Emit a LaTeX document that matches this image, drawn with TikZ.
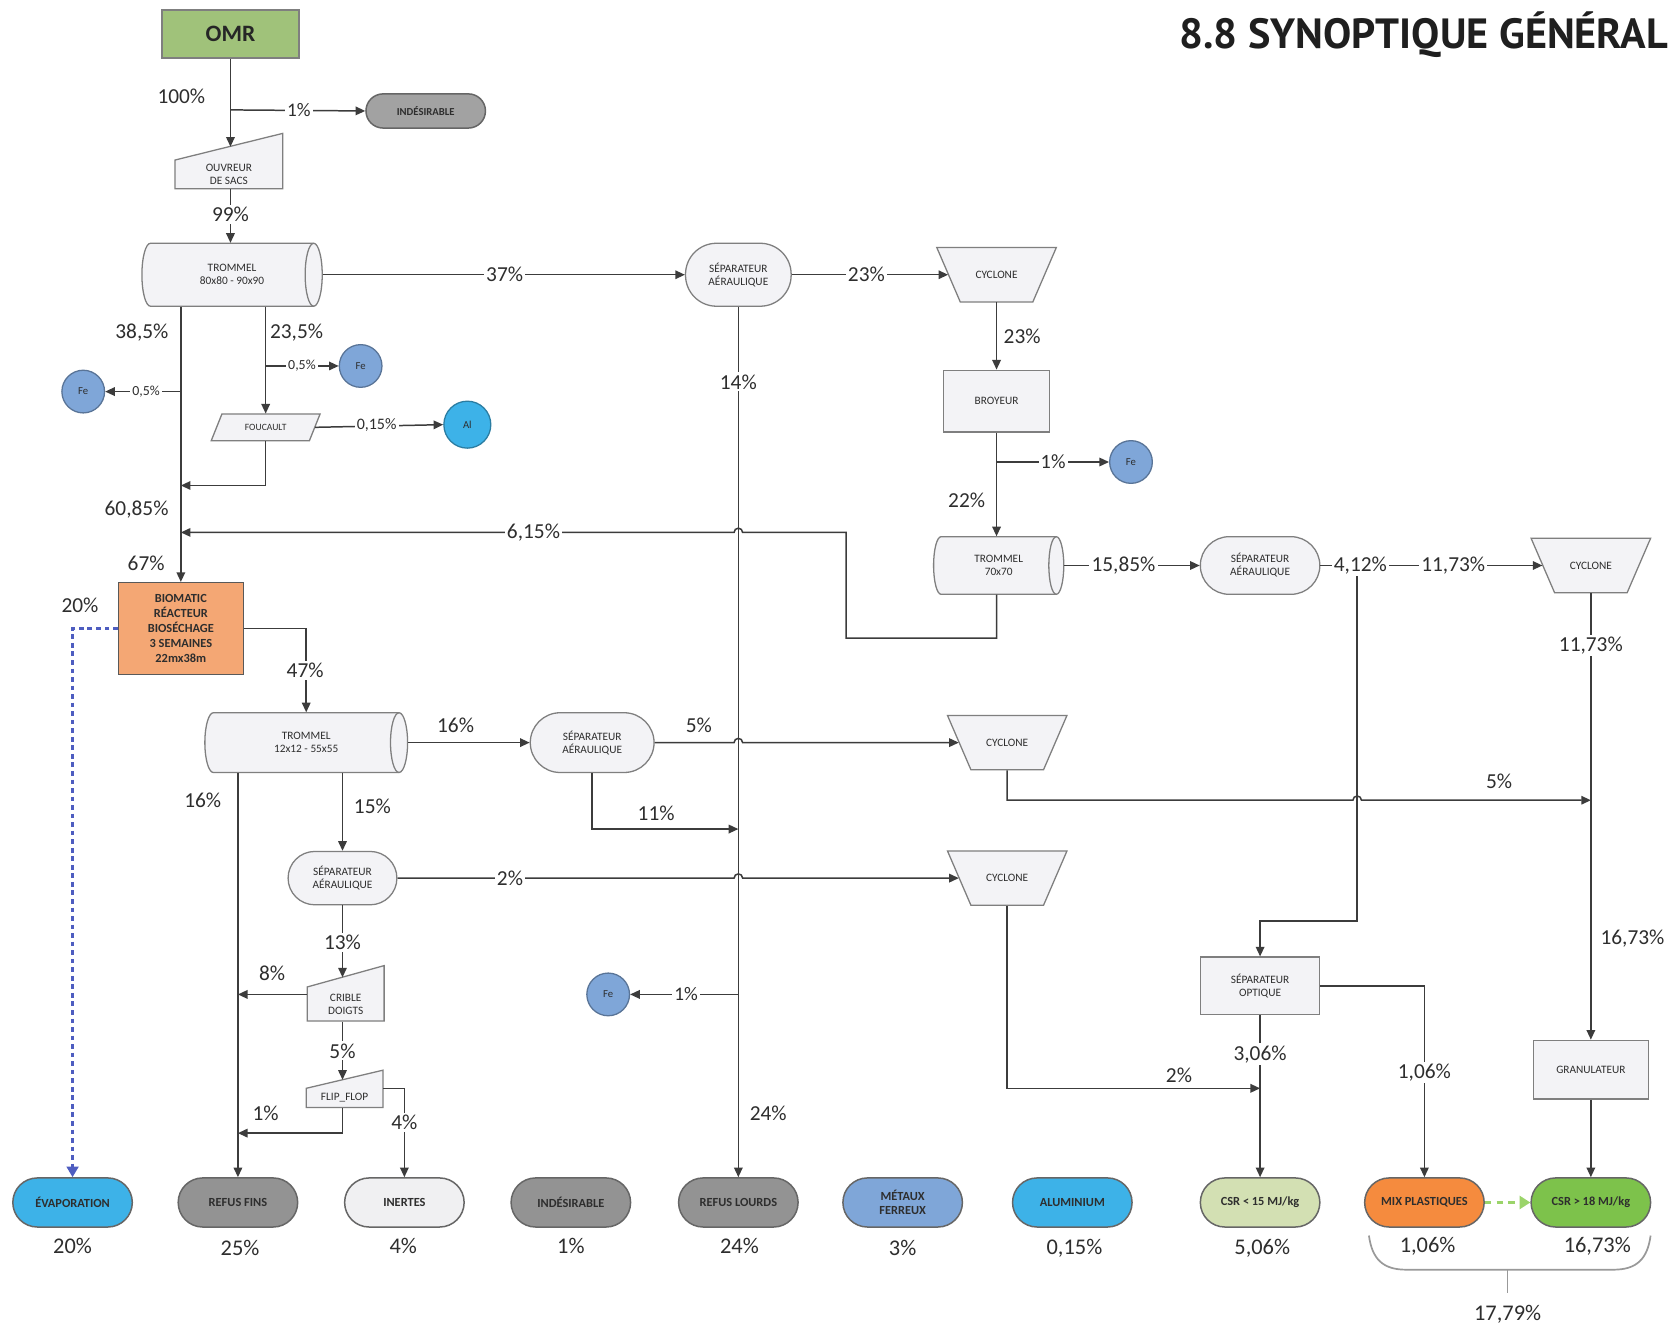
\documentclass[tikz,border=0pt]{standalone}
\usepackage{fontspec}
\setmainfont{Carlito}
\newfontfamily\titlefont{PT Sans}
\usetikzlibrary{arrows.meta}
\definecolor{lc}{HTML}{3C3C3C}
\definecolor{tc}{HTML}{2E2E2E}
\definecolor{bc}{HTML}{7F7F7F}
\definecolor{pf}{HTML}{F3F3F6}
\definecolor{omrc}{HTML}{A0C27A}
\definecolor{grayc}{HTML}{939393}
\definecolor{grayt}{HTML}{A2A2A2}
\definecolor{feblue}{HTML}{7FA6D8}
\definecolor{alblue}{HTML}{3DB2E8}
\definecolor{bioc}{HTML}{F4A774}
\definecolor{csrone}{HTML}{D3E0B3}
\definecolor{mixc}{HTML}{F58B3E}
\definecolor{csrtwo}{HTML}{7DC24B}
\definecolor{evapc}{HTML}{4E5DC0}
\definecolor{gdash}{HTML}{9BD46A}
\definecolor{inertc}{HTML}{F0F0F2}

\tikzset{
 ln/.style={draw=lc, line width=0.7pt},
 ar/.style={ln, -{Triangle[length=4.5pt,width=4pt]}},
 lab/.style={font=\fontsize{10}{11}\selectfont, text=tc, inner sep=1pt},
 onl/.style={lab, fill=white},
 ntx/.style={font=\fontsize{5.3}{6.1}\selectfont, text=tc, align=center},
 proc/.style={draw=bc, fill=pf, line width=0.6pt},
 pillbox/.style n args={3}{rectangle, rounded corners=#3, draw=bc, fill=pf, line width=0.6pt, minimum width=#1, minimum height=#2, inner sep=0pt, ntx},
 recbox/.style 2 args={rectangle, draw=bc, fill=pf, line width=0.6pt, minimum width=#1, minimum height=#2, inner sep=0pt, ntx},
 endpill/.style={rectangle, rounded corners=11.5pt, draw=bc!80!black, fill=#1, line width=0.7pt, minimum width=56pt, minimum height=23pt, inner sep=0pt, font=\bfseries\fontsize{5.8}{6.6}\selectfont, text=tc, align=center},
 disc/.style={circle, draw=#1!70!black, fill=#1, line width=0.6pt, minimum size=20pt, inner sep=0pt, font=\fontsize{5}{6}\selectfont, text=tc},
 pct/.style={font=\fontsize{10.5}{12}\selectfont, text=tc},
}

\newcommand\cyclonebox[4]{%
 \filldraw[proc] (#2-56,#3-25.5) -- (#2+56,#3-25.5) -- (#2+34,#3+25.5) -- (#2-34,#3+25.5) -- cycle;
 \node[ntx, inner sep=0pt, minimum width=45pt, minimum height=25.5pt] (#1) at (#2,#3) {#4};}
\newcommand\manin[7]{%
 \filldraw[proc] (#2,#4) -- (#3,#5) -- (#3,#6) -- (#2,#6) -- cycle;
 \node[ntx, inner sep=0pt, minimum width={(#3-#2)*0.5pt}, minimum height={(#6-#4)*0.5pt}] (#1) at ({(#2+#3)/2},{(#4+#6)/2}) {#7};}
\newcommand\cyl[7]{%
 \filldraw[proc] (#2+#6,#4) -- (#3-#6,#4) arc[start angle=-90,end angle=90,x radius=#6,y radius={(#5-#4)/2}] -- (#2+#6,#5) arc[start angle=90,end angle=270,x radius=#6,y radius={(#5-#4)/2}] -- cycle;
 \draw[proc, fill=none] (#3-#6,#4) arc[start angle=-90,end angle=-270,x radius=#6,y radius={(#5-#4)/2}];
 \node[ntx, inner sep=0pt, minimum width={(#3-#2)*0.5pt}, minimum height={(#5-#4)*0.5pt}] (#1) at ({(#2+#3)/2},{(#4+#5)/2}) {#7};}

\begin{document}
\begin{tikzpicture}[x=0.5pt,y=-0.5pt]
\useasboundingbox (0,0) rectangle (1568,1242);
\clip (0,0) rectangle (1568,1242);
\fill[white] (0,0) rectangle (1568,1242);

% title
\node[anchor=base west, inner sep=0pt, font=\titlefont\bfseries\fontsize{19.8}{22}\selectfont, text=black!88] (title) at (1105,45) {8.8 SYNOPTIQUE GÉNÉRAL};

% ---------- shapes ----------
\node[draw=bc, fill=omrc, line width=0.7pt, minimum width=64pt, minimum height=22.5pt, inner sep=0pt, font=\bfseries\fontsize{11}{12}\selectfont, text=black!85] (omr) at (216,32) {OMR};
\node[endpill=grayt, minimum height=16pt, rounded corners=8pt, font=\bfseries\fontsize{5}{6}\selectfont] (ind1) at (399,104) {INDÉSIRABLE};
\manin{ouv}{164}{265}{150}{125}{177}{OUVREUR\\DE SACS}
\cyl{tr1}{133}{302}{228}{287}{8}{TROMMEL\\80x80 - 90x90}
\node[pillbox={49.5pt}{29.5pt}{14.5pt}] (sep1) at (692,257.5) {SÉPARATEUR\\AÉRAULIQUE};
\cyclonebox{cyc1}{934}{257.5}{CYCLONE}
\node[recbox={49.5pt}{29pt}] (broy) at (934,376) {BROYEUR};
\node[disc=feblue] (fe4) at (1060,433) {Fe};
\cyl{tr2}{875}{997}{503}{557}{7}{TROMMEL\\70x70}
\node[pillbox={56pt}{27pt}{13.5pt}] (sep2) at (1181,530) {SÉPARATEUR\\AÉRAULIQUE};
\cyclonebox{cyc3}{1491}{530}{CYCLONE}
\node[recbox={54pt}{27.5pt}] (gran) at (1491,1002.5) {GRANULATEUR};
\node[disc=feblue] (fe1) at (78,367) {Fe};
\node[disc=feblue] (fe2) at (338,343) {Fe};
\filldraw[proc] (208,388) -- (300,388) -- (290,413) -- (198,413) -- cycle;
\node[ntx, font=\fontsize{4.5}{5}\selectfont, minimum width=46pt, minimum height=12.5pt, inner sep=0pt] (fouc) at (249,400.5) {FOUCAULT};
\node[disc=alblue, minimum size=22pt] (al) at (438,398) {Al};
\node[draw=bc!70!black, fill=bioc, line width=0.6pt, minimum width=58.5pt, minimum height=43pt, inner sep=0pt, font=\bfseries\fontsize{5.8}{7}\selectfont, align=center, text=tc] (bio) at (169.5,589) {BIOMATIC\\RÉACTEUR\\BIOSÉCHAGE\\3 SEMAINES\\22mx38m};
\cyl{tr3}{192}{382}{668}{724}{8}{TROMMEL\\12x12 - 55x55}
\node[pillbox={58pt}{28pt}{14pt}] (sep3) at (555,696) {SÉPARATEUR\\AÉRAULIQUE};
\cyclonebox{cyc2}{944}{696}{CYCLONE}
\node[pillbox={51pt}{25pt}{12.5pt}] (sep4) at (321,823) {SÉPARATEUR\\AÉRAULIQUE};
\cyclonebox{cyc4}{944}{823}{CYCLONE}
\manin{crib}{288}{360}{925}{905}{957}{CRIBLE\\DOIGTS}
\manin{flip}{287}{359}{1020}{1003}{1038}{FLIP\_FLOP}
\node[disc=feblue] (fe3) at (570,932) {Fe};
\node[recbox={56pt}{27pt}] (sepo) at (1181,924) {SÉPARATEUR\\OPTIQUE};

% bottom outputs
\node[endpill=alblue] (evap) at (68,1127) {ÉVAPORATION};
\node[endpill=grayc] (rfins) at (223,1127) {REFUS FINS};
\node[endpill=inertc] (inert) at (379,1127) {INERTES};
\node[endpill=grayc] (ind2) at (535,1127) {INDÉSIRABLE};
\node[endpill=grayc] (rlourds) at (692,1127) {REFUS LOURDS};
\node[endpill=feblue] (metaux) at (846,1127) {MÉTAUX\\FERREUX};
\node[endpill=alblue] (alu) at (1005,1127) {ALUMINIUM};
\node[endpill=csrone] (csr1) at (1181,1127) {CSR < 15 MJ/kg};
\node[endpill=mixc] (mix) at (1335,1127) {MIX PLASTIQUES};
\node[endpill=csrtwo] (csr2) at (1491,1127) {CSR > 18 MJ/kg};

% ---------- connectors ----------
\coordinate (j1) at (216,103);
\coordinate (ouvin) at (216,137.5);
\draw[ar] (omr.south) -- (ouvin);
\draw[ar] (j1) -- (ind1.west);
\draw[ar] (ouv.south -| omr.south) -- (tr1.north -| omr.south);
\draw[ar] (tr1.east) -- (sep1.west);
\draw[ar] (sep1.east) -- (cyc1.west);
\draw[ar] (cyc1.south) -- (broy.north);
\draw[ar] (broy.south) -- (broy.south |- tr2.north);
\coordinate (j2) at (934,433);
\draw[ar] (j2) -- (fe4.west);
\draw[ar] (tr2.south -| broy.south) -- (934,598) -- (793,598) -- (793,499) -- (696,499) arc[start angle=0,end angle=-180,radius=4] -- (bio.north |- 0,499);
\draw[ar] (tr2.east) -- (sep2.west);
\draw[ar] (sep2.east) -- (cyc3.west);
\draw[ar] (1272,530) -- (1272,863) -| (sepo.north);
\draw[ar] (cyc3.south) -- (gran.north);
\draw[ar] (gran.south) -- (csr2.north);
\draw[ar] (sepo.south) -- (csr1.north);
\draw[ar] (sepo.east) -| (mix.north);
\draw[ar] (bio.north |- tr1.south) -- (bio.north);
\draw[ar] (fouc.north |- tr1.south) -- (fouc.north);
\coordinate (j3) at (249,343);
\draw[ar] (j3) -- (fe2.west);
\coordinate (j4) at (169.5,367);
\draw[ar] (j4) -- (fe1.east);
\draw[ar] (fouc.east) -- (al.west);
\draw[ar] (fouc.south) |- (bio.north |- 0,455);
\draw[ar] (bio.east) -| (tr3.north);
\draw[draw=evapc, line width=1.8pt, dash pattern=on 2.2pt off 1.8pt, -{Triangle[length=5pt,width=5.5pt]}] (bio.west) -| (evap.north);
\draw[ar] (tr3.east) -- (sep3.west);
\draw[ar] (sep3.east) -- (688,696) arc[start angle=180,end angle=360,radius=4] -- (cyc2.west);
\draw[ar] (cyc2.south) -- (944,750) -- (1268,750) arc[start angle=180,end angle=360,radius=4] -- (gran.north |- 0,750);
\draw[ar] (sep3.south) |- (rlourds.north |- 0,777);
\draw[ar] (rfins.north |- tr3.south) -- (rfins.north);
\draw[ar] (sep4.north |- tr3.south) -- (sep4.north);
\draw[ar] (sep4.east) -- (688,823) arc[start angle=180,end angle=360,radius=4] -- (cyc4.west);
\draw[ar] (cyc4.south) |- (sepo.south |- 0,1020);
\coordinate (cribin) at (321,916);
\draw[ar] (sep4.south) -- (cribin);
\draw[ar] (crib.west |- 0,932) -- (rfins.north |- 0,932);
\coordinate (flipin) at (321,1012);
\draw[ar] (crib.south -| sep4.south) -- (flipin);
\draw[ar] (flip.south -| sep4.south) |- (rfins.north |- 0,1062);
\draw[ar] (flip.east |- 0,1020) -| (inert.north);
\coordinate (j5) at (692,932);
\draw[ar] (j5) -- (fe3.east);
\draw[ar] (sep1.south) -- (rlourds.north);
\draw[draw=gdash, line width=1.6pt, dash pattern=on 3pt off 2.5pt, -{Triangle[length=5pt,width=6pt]}] (mix.east) -- (csr2.west);

% brace
\draw[draw=black!40, line width=0.8pt] (1283,1158) .. controls (1286,1180) and (1296,1190) .. (1318,1190) -- (1512,1190) .. controls (1534,1190) and (1544,1180) .. (1547,1158);
\draw[draw=black!40, line width=0.8pt] (1413,1190) -- (1413,1212);

% ---------- labels ----------
\node[lab] at (170,90) {100\%};
\node[onl, font=\fontsize{9}{10}\selectfont] at (280,103) {1\%};
\node[onl] at (216,201) {99\%};
\node[onl] at (473,257) {37\%};
\node[onl] at (812,257) {23\%};
\node[lab] at (958,315) {23\%};
\node[onl, font=\fontsize{9.5}{10}\selectfont] at (987,433) {1\%};
\node[lab] at (906,469) {22\%};
\node[onl] at (1053,530) {15,85\%};
\node[onl] at (1275,530) {4,12\%};
\node[onl] at (1362,530) {11,73\%};
\node[onl] at (1491,605) {11,73\%};
\node[lab] at (1530,880) {16,73\%};
\node[onl] at (1181,988) {3,06\%};
\node[onl] at (1335,1005) {1,06\%};
\node[lab] at (1105,1008) {2\%};
\node[lab] at (1405,732) {5\%};
\node[lab] at (133,312) {38,5\%};
\node[lab] at (278,312) {23,5\%};
\node[onl, font=\fontsize{6.5}{7}\selectfont] at (283,343) {0,5\%};
\node[onl, font=\fontsize{6.5}{7}\selectfont] at (137,367) {0,5\%};
\node[onl, font=\fontsize{7.5}{8}\selectfont] at (353,398) {0,15\%};
\node[lab] at (128,478) {60,85\%};
\node[onl] at (500,499) {6,15\%};
\node[lab] at (137,528) {67\%};
\node[lab] at (75,567) {20\%};
\node[onl] at (286,628) {47\%};
\node[lab] at (427,680) {16\%};
\node[lab] at (655,680) {5\%};
\node[lab] at (615,762) {11\%};
\node[lab] at (190,750) {16\%};
\node[lab] at (349,756) {15\%};
\node[onl] at (478,823) {2\%};
\node[onl] at (321,883) {13\%};
\node[lab] at (255,912) {8\%};
\node[onl] at (321,985) {5\%};
\node[lab] at (249,1043) {1\%};
\node[onl] at (379,1052) {4\%};
\node[onl, font=\fontsize{9}{10}\selectfont] at (643,932) {1\%};
\node[onl] at (692,358) {14\%};
\node[lab] at (720,1043) {24\%};

% output percentages
\node[pct] at (68,1168) {20\%};
\node[pct] at (225,1170) {25\%};
\node[pct] at (378,1168) {4\%};
\node[pct] at (535,1168) {1\%};
\node[pct] at (693,1168) {24\%};
\node[pct] at (846,1170) {3\%};
\node[pct] at (1007,1170) {0,15\%};
\node[pct] at (1183,1170) {5,06\%};
\node[pct] at (1338,1168) {1,06\%};
\node[pct] at (1497,1168) {16,73\%};
\node[pct] at (1413,1232) {17,79\%};
\end{tikzpicture}
\end{document}
